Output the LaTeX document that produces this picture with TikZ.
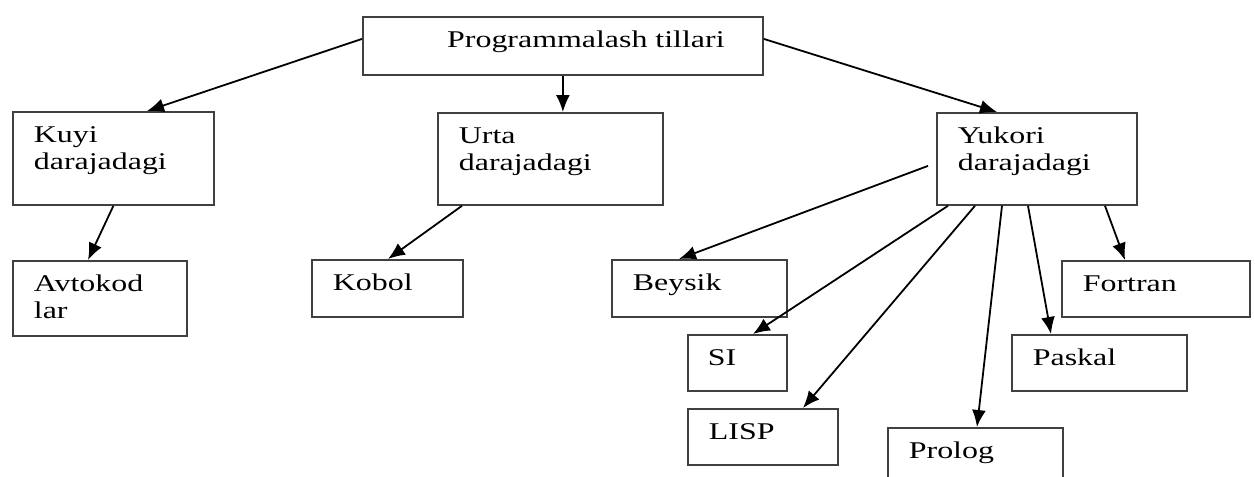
\documentclass[tikz,border=0pt]{standalone}
\usepackage{fontspec}
\setmainfont{Liberation Serif}[FakeStretch=1.33]
\usetikzlibrary{calc,arrows.meta}

\begin{document}
\begin{tikzpicture}[x=0.5pt,y=-0.5pt,
  box/.style={draw=black!75, line width=0.9pt, anchor=north west, inner xsep=10.5pt,
    inner ysep=0pt, text height=15.5pt, align=left,
    font=\fontsize{12pt}{13.5pt}\selectfont},
  arr/.style={line width=0.9pt, -{Latex[length=8.5pt,width=7pt]}}]
  \clip (0,0) rectangle (1255,477);
  \node[box, inner xsep=0pt, minimum width=200pt, text depth=13.5pt] (top) at (362,16) {\hspace*{23pt}Programmalash tillari};
  \node[box, text width=79.5pt, text depth=31pt] (kuyi) at (12,111) {Kuyi\\darajadagi};
  \node[box, text width=91.5pt, text depth=30.5pt] (urta) at (437,112) {Urta\\darajadagi};
  \node[box, text width=79pt, text depth=30.5pt] (yukori) at (936,112) {Yukori\\darajadagi};
  \node[box, text width=66pt, text depth=22pt] (avtokod) at (12,260) {Avtokod\\lar};
  \node[box, text width=54.5pt, text depth=13pt] (kobol) at (311,259) {Kobol};
  \node[box, text width=66.5pt, text depth=13pt] (beysik) at (611,259) {Beysik};
  \node[box, inner xsep=10pt, text width=29.5pt, text depth=12.5pt] (si) at (687,334) {SI};
  \node[box, text width=54pt, text depth=12.5pt] (lisp) at (687,408) {LISP};
  \node[box, text width=66.5pt, text depth=17pt] (prolog) at (887,427) {Prolog};
  \node[box, text width=66.5pt, text depth=12.5pt] (paskal) at (1011,334) {Paskal};
  \node[box, text width=73pt, text depth=12.5pt] (fortran) at (1061,260) {Fortran};
  \draw[arr] ($(top.west)+(0,-7)$) -- ($(kuyi.north west)+(135,0)$);
  \draw[arr] (top.south) -- (top.south |- urta.north);
  \draw[arr] ($(top.east)+(0,-7)$) -- ($(yukori.north west)+(61,0)$);
  \draw[arr] (kuyi.south) -- ($(avtokod.north west)+(76,0)$);
  \draw[arr] ($(urta.south west)+(25,0)$) -- ($(kobol.north west)+(77,0)$);
  \draw[arr] ($(yukori.west)+(-8,7)$) -- ($(beysik.north west)+(68,0)$);
  \draw[arr] ($(yukori.south west)+(12,0)$) -- ($(si.north west)+(66,0)$);
  \draw[arr] ($(yukori.south west)+(39,0)$) -- ($(lisp.north west)+(116,0)$);
  \draw[arr] ($(yukori.south west)+(66,0)$) -- ($(prolog.north west)+(90,0)$);
  \draw[arr] ($(yukori.south west)+(92,0)$) -- ($(paskal.north west)+(40,0)$);
  \draw[arr] ($(yukori.south west)+(169,0)$) -- ($(fortran.north west)+(64,0)$);
\end{tikzpicture}
\end{document}
